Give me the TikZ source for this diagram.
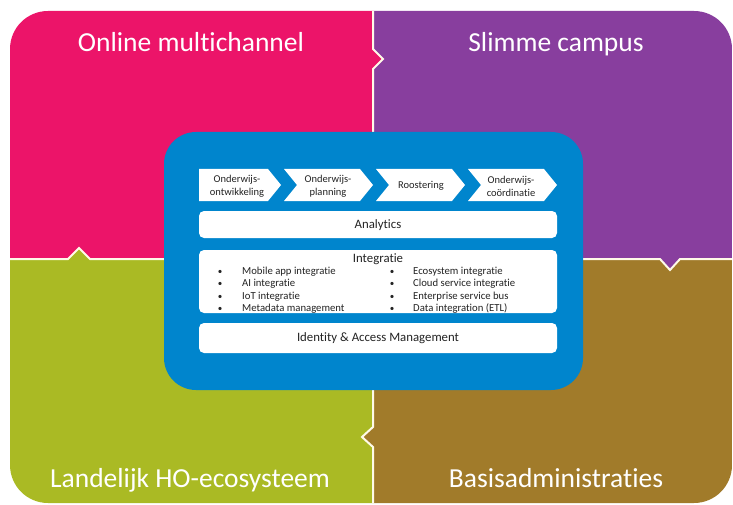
\documentclass[tikz,border=0pt]{standalone}
\usepackage{fontspec}
\setmainfont{Carlito}[Ligatures=NoCommon]
\definecolor{cpink}{RGB}{236,20,105}
\definecolor{cpurple}{RGB}{136,62,158}
\definecolor{cgreen}{RGB}{170,186,36}
\definecolor{cbrown}{RGB}{161,123,42}
\definecolor{cblue}{RGB}{0,133,205}
\definecolor{cline}{RGB}{255,250,232}
\definecolor{ctext}{RGB}{35,35,35}
\begin{document}
\begin{tikzpicture}[x=1pt,y=-1pt,
  title/.style={text=white,font=\fontsize{27.5}{33}\selectfont,anchor=base,inner sep=0},
  divider/.style={draw=cline,line width=2pt,line join=miter},
  chev/.style={fill=white},
  chevtext/.style={text=ctext,font=\fontsize{10.5}{13}\selectfont,align=center,inner sep=0},
  bar/.style={fill=white,rounded corners=5pt},
  bartext/.style={text=ctext,font=\fontsize{12.8}{15}\selectfont,inner sep=0},
  item/.style={text=ctext,font=\fontsize{10.7}{12}\selectfont,anchor=base west,inner sep=0},
  bullet/.style={text=ctext,font=\fontsize{9}{12}\selectfont,anchor=base,inner sep=0},
]
\useasboundingbox (0,0) rectangle (733,505);
% quadrants
\begin{scope}
\clip[rounded corners=38pt] (10,11) rectangle (732,503);
\fill[cpink] (0,0) -- (373,0) -- (373,49) -- (383,59) -- (373,69) -- (373,259) -- (90,259) -- (79,248) -- (68,259) -- (0,259) -- cycle;
\fill[cpurple] (373,0) -- (733,0) -- (733,259) -- (680,259) -- (670,270) -- (660,259) -- (373,259) -- (373,69) -- (383,59) -- (373,49) -- cycle;
\fill[cgreen] (0,259) -- (68,259) -- (79,248) -- (90,259) -- (373,259) -- (373,427) -- (362,437) -- (373,447) -- (373,505) -- (0,505) -- cycle;
\fill[cbrown] (373,259) -- (660,259) -- (670,270) -- (680,259) -- (733,259) -- (733,505) -- (373,505) -- (373,447) -- (362,437) -- (373,427) -- cycle;
\draw[divider] (373,0) -- (373,49) -- (383,59) -- (373,69) -- (373,427) -- (362,437) -- (373,447) -- (373,505);
\draw[divider] (0,259) -- (68,259) -- (79,248) -- (90,259) -- (660,259) -- (670,270) -- (680,259) -- (733,259);
\end{scope}
% titles
\node[title] (t1) at (191,52) {Online multichannel};
\node[title] (t2) at (556,52) {Slimme campus};
\node[title] (t3) at (190,487) {Landelijk HO-ecosysteem};
\node[title] (t4) at (556,487) {Basisadministraties};
% central blue panel
\fill[cblue,rounded corners=32pt] (164,132) rectangle (583,390);
% chevrons
\fill[chev] (199,169) -- (268,169) -- (281,185) -- (268,201) -- (199,201) -- cycle;
\fill[chev] (284,169) -- (360,169) -- (373,185) -- (360,201) -- (284,201) -- (297,185) -- cycle;
\fill[chev] (376,169) -- (452,169) -- (465,185) -- (452,201) -- (376,201) -- (389,185) -- cycle;
\fill[chev] (468,169) -- (544,169) -- (557,185) -- (544,201) -- (468,201) -- (481,185) -- cycle;
\node[chevtext] (c1) at (237,186) {Onderwijs-\\ontwikkeling};
\node[chevtext] (c2) at (328,186) {Onderwijs-\\planning};
\node[chevtext] (c3) at (421,185.5) {Roostering};
\node[chevtext] (c4) at (511,186) {Onderwijs-\\coördinatie};
% bars
\fill[bar] (199,211) rectangle (557,238);
\node[bartext] (an) at (378,225) {Analytics};
\fill[bar] (199,250) rectangle (557,313);
\node[bartext,anchor=base] (in) at (378,262) {Integratie};
\begin{scope}
\clip[rounded corners=5pt] (199,250) rectangle (557,313);
\node[bullet] (b1) at (220,274) {•};
\node[bullet] (b2) at (220,286.5) {•};
\node[bullet] (b3) at (220,299) {•};
\node[bullet] (b4) at (220,311.5) {•};
\node[item] (i1) at (242,274) {Mobile app integratie};
\node[item] (i2) at (242,286.5) {AI integratie};
\node[item] (i3) at (242,299) {IoT integratie};
\node[item] (i4) at (242,311.5) {Metadata management};
\node[bullet] (b5) at (392,274) {•};
\node[bullet] (b6) at (392,286.5) {•};
\node[bullet] (b7) at (392,299) {•};
\node[bullet] (b8) at (392,311.5) {•};
\node[item] (j1) at (413,274) {Ecosystem integratie};
\node[item] (j2) at (413,286.5) {Cloud service integratie};
\node[item] (j3) at (413,299) {Enterprise service bus};
\node[item] (j4) at (413,311.5) {Data integration (ETL)};
\end{scope}
\fill[bar] (199,323) rectangle (557,353);
\node[bartext] (id) at (378,338.5) {Identity \& Access Management};
\end{tikzpicture}
\end{document}
